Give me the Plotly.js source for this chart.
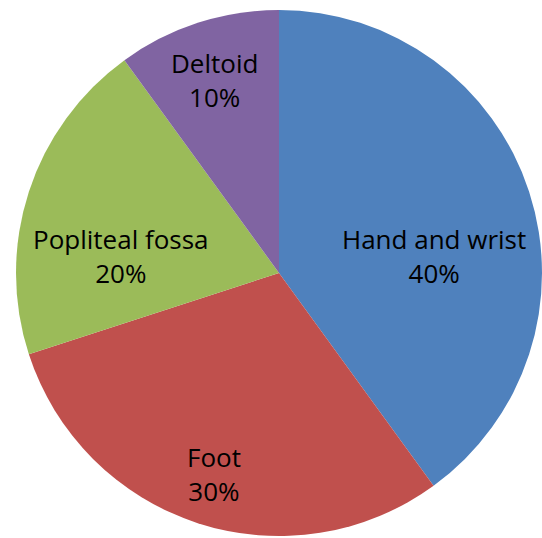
<!DOCTYPE html>
<html>
<head>
<meta charset="utf-8">
<script src="https://cdn.plot.ly/plotly-3.0.1.min.js"></script>
<style>html,body{margin:0;padding:0;background:#fff;}#chart{width:542px;height:538px;}</style>
</head>
<body>
<div id="chart"></div>
<script>
const labels = ["Hand and wrist", "Foot", "Popliteal fossa", "Deltoid"];
const values = [40, 30, 20, 10];
const colors = ["#4F81BD", "#C0504D", "#9BBB59", "#8064A2"];

// label placement (layout only): centre of each data label in pixels
const labelCenters = [[434, 256], [214, 474], [121, 256], [214, 80]];

const W = 542, H = 538;
const total = values.reduce((a, b) => a + b, 0);

const trace = {
  type: "pie",
  labels: labels,
  values: values,
  sort: false,
  direction: "clockwise",
  rotation: 0,
  marker: {colors: colors, line: {width: 0}},
  textinfo: "none",
  hoverinfo: "none",
  domain: {x: [16/W, 1], y: [1/H, 529/H]}
};

const annotations = labels.map((lab, i) => ({
  xref: "paper", yref: "paper",
  x: labelCenters[i][0] / W,
  y: 1 - labelCenters[i][1] / H,
  xanchor: "center", yanchor: "middle",
  showarrow: false,
  align: "center",
  text: lab + "<br>" + Math.round(values[i] / total * 100) + "%",
  font: {family: "Open Sans, Liberation Sans, sans-serif", size: 26, color: "#000"}
}));

const layout = {
  width: W, height: H,
  margin: {l: 0, r: 0, t: 0, b: 0},
  showlegend: false,
  paper_bgcolor: "#fff",
  annotations: annotations
};

Plotly.newPlot("chart", [trace], layout, {displayModeBar: false, staticPlot: true});
</script>
</body>
</html>
